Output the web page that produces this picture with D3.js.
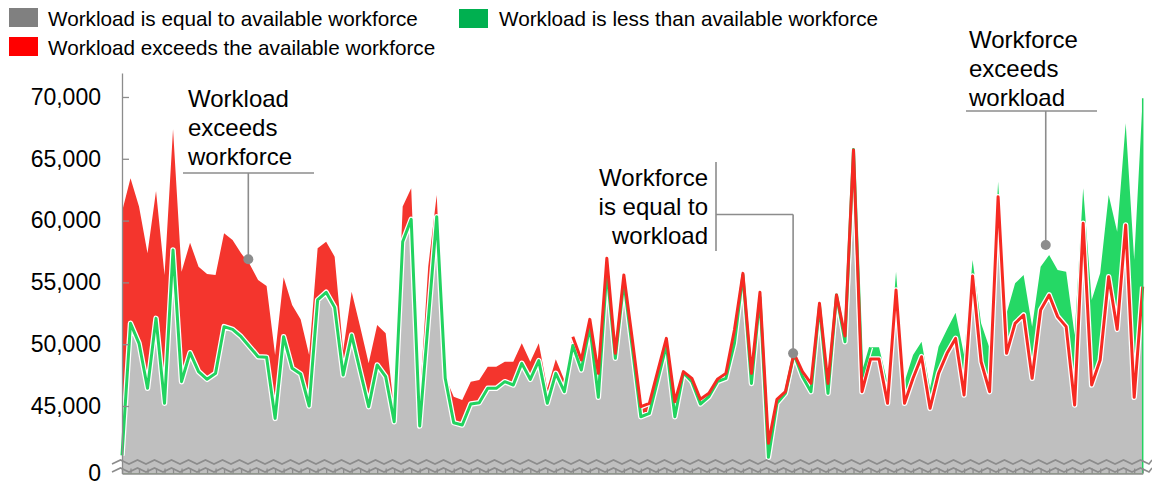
<!DOCTYPE html>
<html><head><meta charset="utf-8">
<script src="https://cdn.jsdelivr.net/npm/d3@7"></script>
<style>
html,body{margin:0;padding:0;background:#fff;}
svg{display:block;font-family:"Liberation Sans",Arial,sans-serif;}
</style></head>
<body><svg id="chart" width="1152" height="492"></svg>
<script>
// ---- data ----
const workload = [
 60720,63420,61130,57350,62390,55600,67380,55870,58210,56270,
 55680,55600,58970,58430,57350,56490,55190,54710,49130,55410,
 53170,52010,49130,57760,58290,57080,49500,54250,51420,48450,
 51550,50880,44680,61130,62610,45500,56270,62070,47370,45750,
 45490,46970,47100,48180,48180,48580,48580,50070,48580,50070,
 46430,48780,47100,50600,48720,52010,47640,56950,49260,55600,
 50360,44950,45220,47860,50470,45350,47780,47240,45540,46030,
 47160,47640,51150,55730,47640,54200,41980,45540,46160,49260,
 47780,46830,53310,46830,53980,50660,65710,46160,48800,48800,
 45220,54380,45220,47240,48990,44810,47640,49260,50470,45890,
 55520,48580,46160,61930,49260,51690,52360,47240,52770,53980,
 52230,51420,45080,59780,46700,48720,55460,51200,59640,45700,
 54650];
const workforce = [
 41000,51690,50070,46430,52090,45220,57620,46970,49310,47780,
 47160,47640,51420,51200,50610,49800,48990,48940,44000,50610,
 48050,47590,45000,53580,54200,52980,47500,50740,47820,44950,
 48320,47370,43730,58290,60100,43380,51850,60320,47240,43650,
 43460,45160,45270,46430,46430,46970,46700,48450,47160,48670,
 45220,47640,46160,49900,47910,51420,45700,56000,48860,55060,
 49670,44130,44400,47160,49930,44130,47700,46970,45160,45760,
 46970,47240,50070,55600,46830,53790,40850,45220,46030,49200,
 47370,46160,53110,46030,53980,50200,65760,47370,49750,49750,
 46890,55870,46970,49130,50200,46430,49800,51200,52550,49130,
 56810,51690,49670,63150,52500,54930,55600,51420,56270,57220,
 56000,55870,50740,62610,53580,55730,62070,59100,67870,56810,
 69890];
const periods = d3.range(workload.length);
const yTicks = [45000, 50000, 55000, 60000, 65000, 70000];
const yBreakLabel = "0";
const legendLabels = ["Workload is equal to available workforce",
                      "Workload exceeds the available workforce",
                      "Workload is less than available workforce"];
const legendColors = ["#808080", "#ff0000", "#00b050"];
const noteTexts = [["Workload","exceeds","workforce"],
                   ["Workforce","is equal to","workload"],
                   ["Workforce","exceeds","workload"]];
const notePoints = [{i:14.85, v:56870}, {i:78.9, v:49260}, {i:108.6, v:58020}];

// ---- layout ----
const svg = d3.select("#chart");
const x = d3.scaleLinear().domain([0, periods.length - 1]).range([122, 1142.7]);
const y = d3.scaleLinear().domain([39540, 71940]).range([473.5, 73]);
const yBottom = y.range()[0];

const C = {red:"#f4352d", redLine:"#f62a22", green:"#25d865", greenLine:"#22d360",
           gray:"#bfbfbf", axis:"#8c8c8c"};

const areaGen = d3.area().x((d,i)=>x(i)).y0(yBottom).y1(d=>y(d));

const defs = svg.append("defs");
defs.append("clipPath").attr("id","belowWf").append("path").attr("d", areaGen(workforce));

svg.append("path").attr("d", areaGen(workload)).attr("fill", C.red);
svg.append("path").attr("d", areaGen(workforce)).attr("fill", C.green);
svg.append("path").attr("d", areaGen(workload)).attr("fill", C.gray).attr("clip-path","url(#belowWf)");

// lines
const lineGen = d3.line().x(d=>x(d.i)).y(d=>y(d.v));
const wfPts = workforce.map((v,i)=>({i,v})).filter(d=>d.i<=88);
const wlPts = workload.map((v,i)=>({i,v})).filter(d=>d.i>=53);
svg.append("path").attr("d", lineGen(wfPts)).attr("fill","none").attr("stroke","#fff").attr("stroke-width",5.5).attr("stroke-linejoin","round");
svg.append("path").attr("d", lineGen(wlPts)).attr("fill","none").attr("stroke","#fff").attr("stroke-width",5.5).attr("stroke-linejoin","round");
svg.append("path").attr("d", lineGen(wfPts)).attr("fill","none").attr("stroke",C.greenLine).attr("stroke-width",3).attr("stroke-linejoin","round");
svg.append("path").attr("d", lineGen(wlPts)).attr("fill","none").attr("stroke",C.redLine).attr("stroke-width",3).attr("stroke-linejoin","round");
// right edge of the green area
const last = periods.length - 1;
svg.append("line").attr("x1", x(last)).attr("x2", x(last))
  .attr("y1", y(workforce[last])).attr("y2", yBottom)
  .attr("stroke", C.greenLine).attr("stroke-width", 1.5);

// axis break zigzags
function zigzag(yc){
  const pts = [];
  const x0 = 112, x1 = 1152, half = 8.5, amp = 2;
  let k = 0;
  for (let xx = x0; xx <= x1 + half; xx += half, k++) pts.push([Math.min(xx,x1), yc + (k%2 ? -amp : amp)]);
  return d3.line()(pts);
}
[462, 470].forEach(yc => svg.append("path").attr("d", zigzag(yc)).attr("fill","none")
  .attr("stroke", C.axis).attr("stroke-width", 1.6));

// x axis
const xAxis = svg.append("g").attr("transform", `translate(0,${yBottom})`)
  .call(d3.axisBottom(x).tickValues(periods).tickSizeInner(-5).tickSizeOuter(0).tickFormat(""));
xAxis.selectAll("path,line").attr("stroke", C.axis).attr("stroke-width", 1.3);

// y axis
const yAxis = svg.append("g").attr("transform","translate(122,0)")
  .call(d3.axisLeft(y).tickValues(yTicks).tickFormat(d3.format(",")).tickSizeInner(-7).tickSizeOuter(0).tickPadding(21));
yAxis.selectAll("path,line").attr("stroke", C.axis).attr("stroke-width", 1.3);
yAxis.selectAll("text").attr("font-size", 23).attr("fill", "#000").attr("font-family", "Liberation Sans, Arial, sans-serif");
svg.append("text").attr("x", 101).attr("y", yBottom).attr("dy","0.32em").attr("text-anchor","end")
  .attr("font-size", 23).attr("fill","#000").text(yBreakLabel);

// legend
const legendPos = [{x:9, y:8, tx:48, ty:26}, {x:9, y:37, tx:48, ty:55}, {x:459, y:9, tx:499, ty:26}];
legendLabels.forEach((t, k) => {
  const p = legendPos[k];
  svg.append("rect").attr("x", p.x).attr("y", p.y).attr("width", 29).attr("height", 19).attr("fill", legendColors[k]);
  svg.append("text").attr("x", p.tx).attr("y", p.ty).attr("font-size", 20.7).attr("fill", "#000").text(t);
});

// annotations
const noteStyle = {fs: 24, lh: 29};
function noteText(lines, tx, ty, anchor){
  lines.forEach((l, k) => svg.append("text").attr("x", tx).attr("y", ty + k*noteStyle.lh)
    .attr("text-anchor", anchor).attr("font-size", noteStyle.fs).attr("fill","#000").text(l));
}
function seg(x1,y1,x2,y2){ svg.append("line").attr("x1",x1).attr("y1",y1).attr("x2",x2).attr("y2",y2)
  .attr("stroke","#8c8c8c").attr("stroke-width",1.6); }
function dot(p){ svg.append("circle").attr("cx", x(p.i)).attr("cy", y(p.v)).attr("r", 5).attr("fill","#8c8c8c"); }

// 1: workload exceeds workforce
noteText(noteTexts[0], 188, 107, "start");
seg(183, 173, 314, 173);
seg(x(notePoints[0].i), 173, x(notePoints[0].i), y(notePoints[0].v));
dot(notePoints[0]);
// 2: workforce equal to workload
noteText(noteTexts[1], 708, 186, "end");
seg(716, 162, 716, 251);
seg(716, 214.5, x(notePoints[1].i), 214.5);
seg(x(notePoints[1].i), 214.5, x(notePoints[1].i), y(notePoints[1].v));
dot(notePoints[1]);
// 3: workforce exceeds workload
noteText(noteTexts[2], 969, 48, "start");
seg(966, 111, 1097, 111);
seg(x(notePoints[2].i), 111, x(notePoints[2].i), y(notePoints[2].v));
dot(notePoints[2]);
</script>
</body></html>
